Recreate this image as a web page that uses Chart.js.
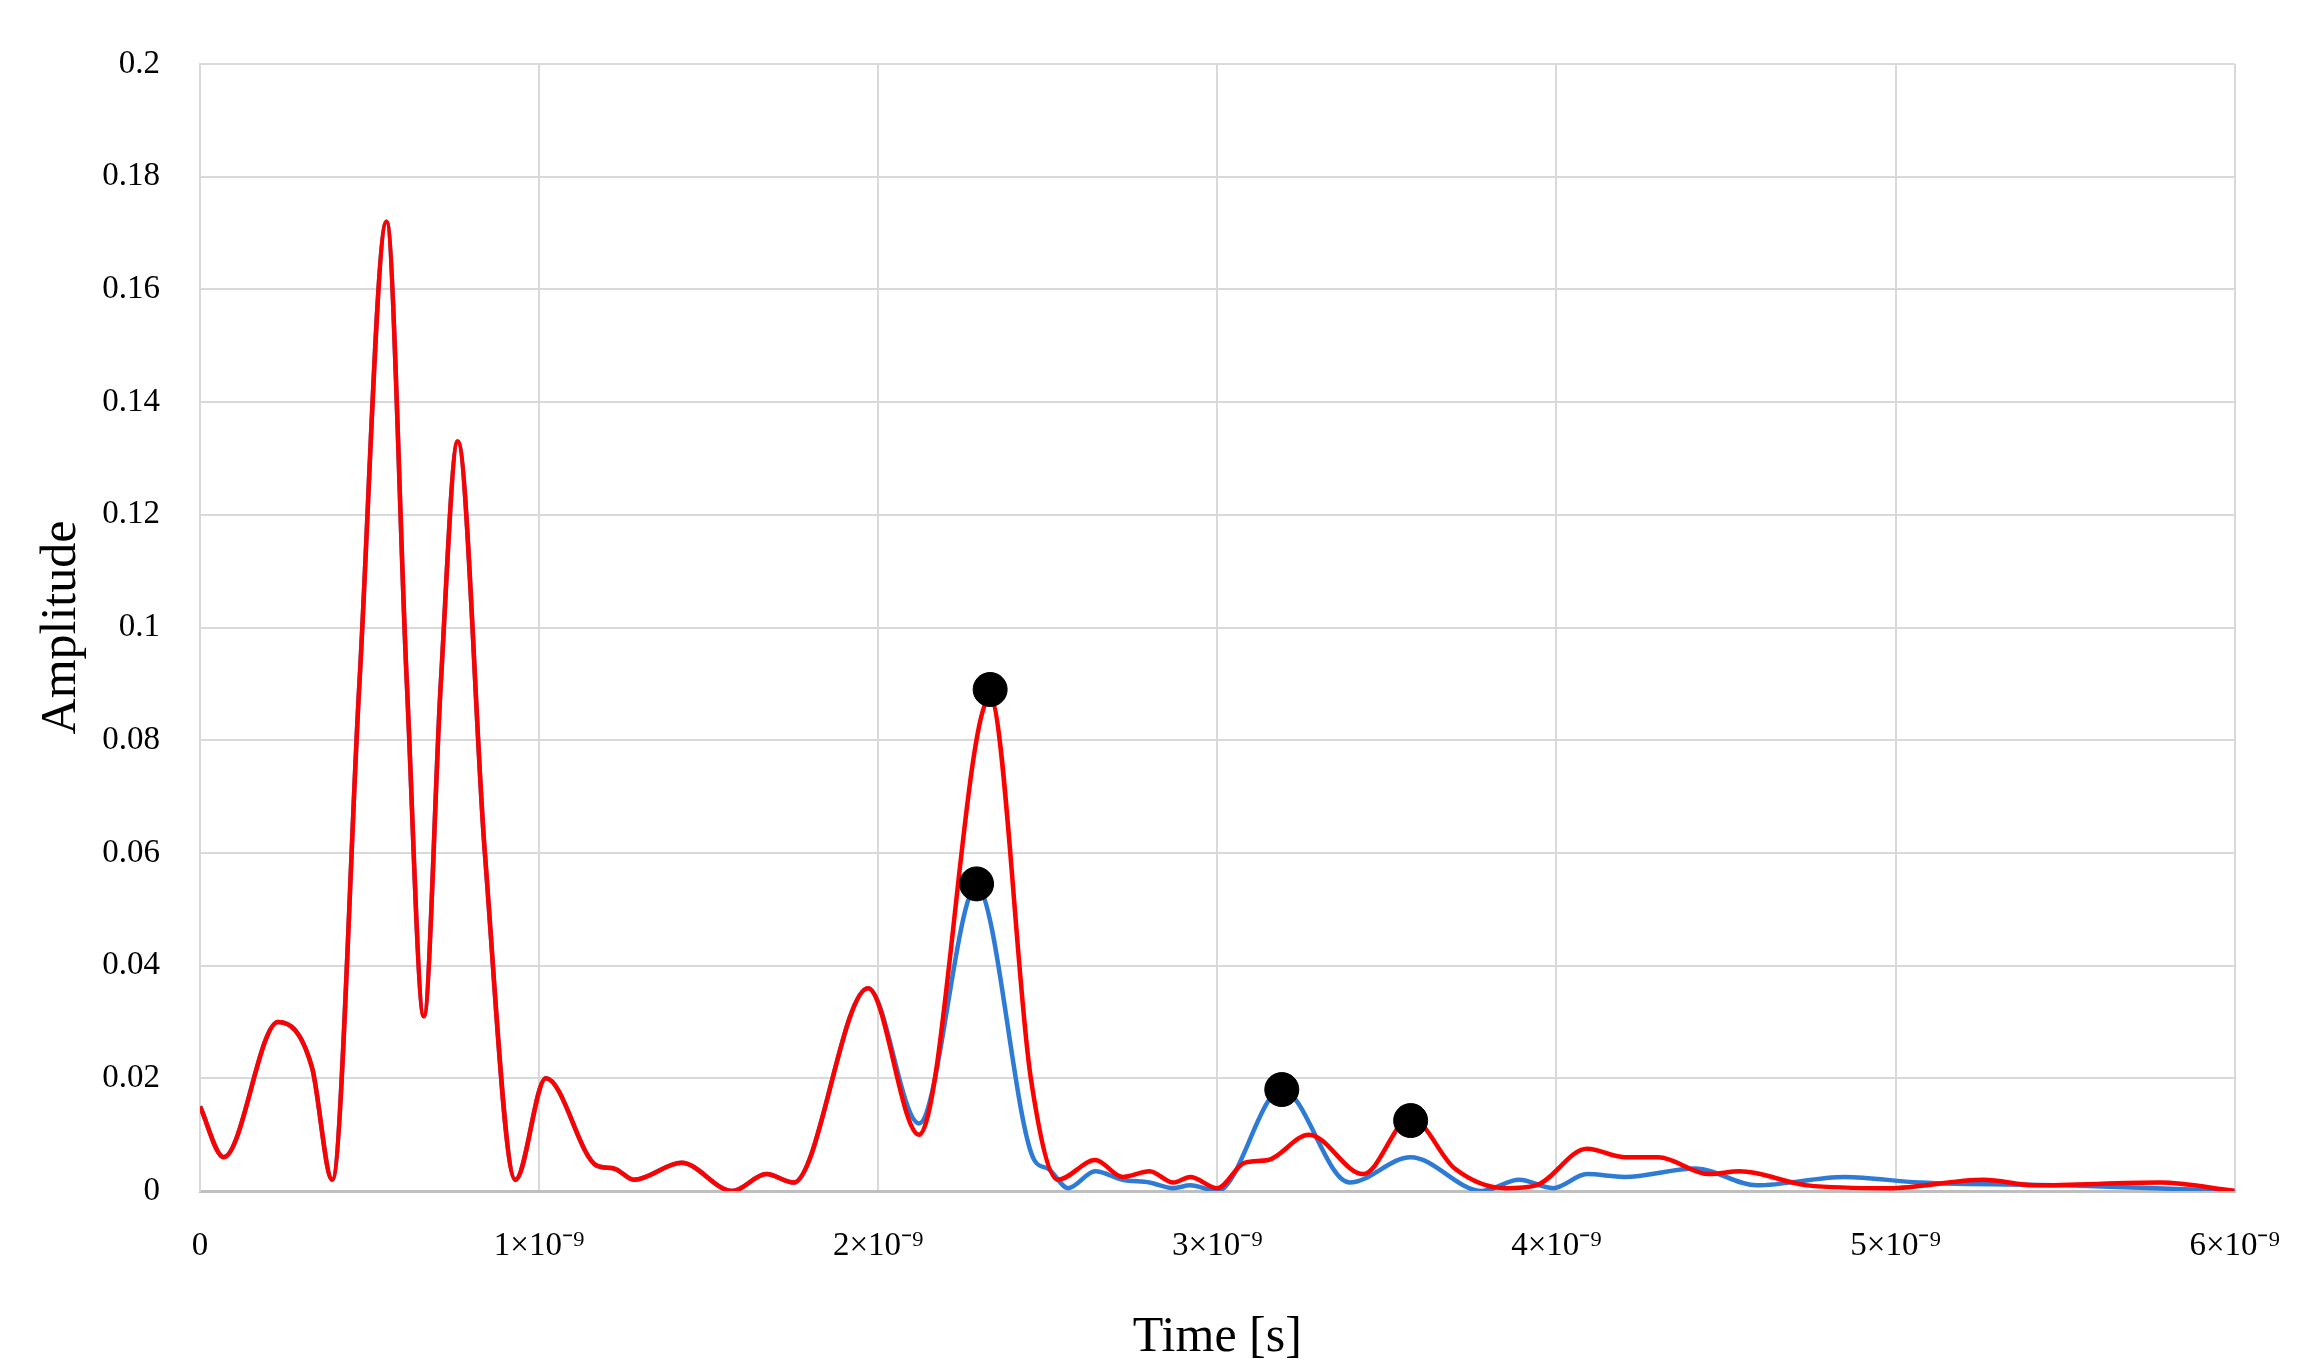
<!DOCTYPE html>
<html lang="en">
<head>
<meta charset="UTF-8">
<title>Amplitude vs Time</title>
<script src="https://cdn.jsdelivr.net/npm/chart.js"></script>
<style>
  html, body { margin: 0; padding: 0; background: #fff; }
  canvas { display: block; }
</style>
</head>
<body>
<canvas id="chart" width="2316" height="1372"></canvas>
<script>
// time in ns (tick labels show n x 10^-9 s)
const redTime = [0, 0.07, 0.23, 0.33, 0.39, 0.47, 0.55, 0.61, 0.66, 0.71, 0.76, 0.84, 0.93, 1.02, 1.17, 1.22, 1.28, 1.42, 1.57, 1.67, 1.75, 1.97, 2.12, 2.33, 2.45, 2.53, 2.64, 2.72, 2.8, 2.87, 2.92, 3.0, 3.08, 3.15, 3.27, 3.43, 3.57, 3.7, 3.85, 3.94, 4.09, 4.2, 4.3, 4.45, 4.54, 4.74, 4.98, 5.26, 5.41, 5.78, 6.0];
const redAmp  = [0.015, 0.006, 0.030, 0.022, 0.002, 0.090, 0.172, 0.090, 0.031, 0.090, 0.133, 0.060, 0.002, 0.020, 0.0045, 0.004, 0.002, 0.005, 0.0, 0.003, 0.0015, 0.036, 0.010, 0.0875, 0.020, 0.002, 0.0055, 0.0025, 0.0035, 0.0015, 0.0025, 0.0005, 0.005, 0.0055, 0.010, 0.003, 0.013, 0.004, 0.0005, 0.001, 0.0075, 0.006, 0.006, 0.003, 0.0035, 0.001, 0.0005, 0.002, 0.001, 0.0015, 0.0];

const blueTime = [0, 0.07, 0.23, 0.33, 0.39, 0.47, 0.55, 0.61, 0.66, 0.71, 0.76, 0.84, 0.93, 1.02, 1.17, 1.22, 1.28, 1.42, 1.57, 1.67, 1.75, 1.97, 2.12, 2.29, 2.46, 2.5, 2.56, 2.64, 2.72, 2.8, 2.87, 2.92, 3.0, 3.19, 3.39, 3.57, 3.78, 3.89, 3.99, 4.09, 4.2, 4.41, 4.59, 4.85, 5.07, 5.5, 6.0];
const blueAmp  = [0.015, 0.006, 0.030, 0.022, 0.002, 0.090, 0.172, 0.090, 0.031, 0.090, 0.133, 0.060, 0.002, 0.020, 0.0045, 0.004, 0.002, 0.005, 0.0, 0.003, 0.0015, 0.036, 0.012, 0.054, 0.0055, 0.004, 0.0005, 0.0035, 0.002, 0.0015, 0.0005, 0.001, 0.0, 0.018, 0.0015, 0.006, 0.0, 0.002, 0.0005, 0.003, 0.0025, 0.004, 0.001, 0.0025, 0.0015, 0.001, 0.0];

const peakTime = [2.29, 2.33, 3.19, 3.57];
const peakAmp  = [0.0545, 0.089, 0.018, 0.0125];

const xTicks = [0, 1, 2, 3, 4, 5, 6];
const xTickLabels = ['0', '1×10⁻⁹', '2×10⁻⁹', '3×10⁻⁹', '4×10⁻⁹', '5×10⁻⁹', '6×10⁻⁹'];

const toPts = (xs, ys) => xs.map((x, i) => ({ x: x, y: ys[i] }));
const font = 'Liberation Serif';

new Chart(document.getElementById('chart'), {
  type: 'scatter',
  data: {
    datasets: [
      { data: toPts(peakTime, peakAmp), backgroundColor: '#000', borderColor: '#000', pointRadius: 17, showLine: false },
      { data: toPts(redTime, redAmp), borderColor: '#ff0000', borderWidth: 4.5, pointRadius: 0, showLine: true, cubicInterpolationMode: 'monotone' },
      { data: toPts(blueTime, blueAmp), borderColor: '#2e7bd6', borderWidth: 4.5, pointRadius: 0, showLine: true, cubicInterpolationMode: 'monotone' }
    ]
  },
  options: {
    responsive: false,
    animation: false,
    devicePixelRatio: 1,
    layout: { padding: { top: 64, right: 66, left: 28, bottom: 0 } },
    plugins: { legend: { display: false }, tooltip: { enabled: false } },
    scales: {
      x: {
        type: 'linear', min: 0, max: 6,
        afterBuildTicks: s => { s.ticks = xTicks.map(v => ({ value: v })); },
        afterFit: s => { s.height = 181; },
        ticks: {
          color: '#000', padding: 36, maxRotation: 0,
          font: { family: font, size: 33 },
          callback: v => xTickLabels[xTicks.indexOf(v)]
        },
        grid: { color: '#d9d9d9', lineWidth: 2, drawTicks: false },
        border: { color: '#bfbfbf', width: 3 },
        title: { display: true, text: 'Time [s]', color: '#000', font: { family: font, size: 50 }, padding: { top: 8 } }
      },
      y: {
        min: 0, max: 0.2,
        afterFit: s => { s.width = 172; },
        ticks: {
          stepSize: 0.02, color: '#000', padding: 40,
          font: { family: font, size: 33 },
          callback: v => String(Math.round(v * 100) / 100)
        },
        grid: { color: '#d9d9d9', lineWidth: 2, drawTicks: false },
        border: { color: '#d9d9d9', width: 2 },
        title: { display: true, text: 'Amplitude', color: '#000', font: { family: font, size: 50 }, padding: { bottom: 0 } }
      }
    }
  }
});
</script>
</body>
</html>
